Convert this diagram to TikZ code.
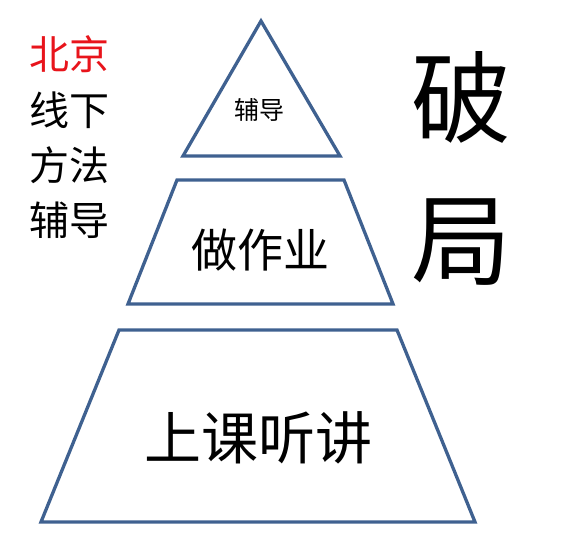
\documentclass[tikz,border=0pt]{standalone}
\usepackage{fontspec}
\newfontfamily\cjk{Noto Sans CJK SC}
\definecolor{tierblue}{HTML}{3F6190}
\definecolor{labelred}{HTML}{E8141B}
\tikzset{
  tier/.style={draw=tierblue, line width=3.3pt, line join=miter},
  lbl/.style={inner sep=0pt, font=\cjk},
}
\begin{document}
\begin{tikzpicture}[x=1pt,y=-1pt]
\useasboundingbox (0,0) rectangle (567,553);
% pyramid tiers
\draw[tier] (261,21) -- (340,156) -- (183,156) -- cycle;
\draw[tier] (177,180) -- (344,180) -- (393,304) -- (128,304) -- cycle;
\draw[tier] (119,330) -- (397,330) -- (475,522) -- (41,522) -- cycle;
% tier labels
\node[lbl, font=\cjk\fontsize{25}{25}\selectfont] (top) at (259,110) {辅导};
\node[lbl, font=\cjk\fontsize{46}{46}\selectfont] (mid) at (260,250) {做作业};
\node[lbl, font=\cjk\fontsize{57}{57}\selectfont] (base) at (258,438) {上课听讲};
% left column
\node[lbl, font=\cjk\fontsize{40}{40}\selectfont, text=labelred] (l1) at (69,54) {北京};
\node[lbl, font=\cjk\fontsize{40}{40}\selectfont] (l2) at (69,110) {线下};
\node[lbl, font=\cjk\fontsize{40}{40}\selectfont] (l3) at (69,165) {方法};
\node[lbl, font=\cjk\fontsize{40}{40}\selectfont] (l4) at (69,220) {辅导};
% right column
\node[lbl, font=\cjk\fontsize{100}{100}\selectfont] (r1) at (461,97) {破};
\node[lbl, font=\cjk\fontsize{100}{100}\selectfont] (r2) at (461,242) {局};
\end{tikzpicture}
\end{document}
